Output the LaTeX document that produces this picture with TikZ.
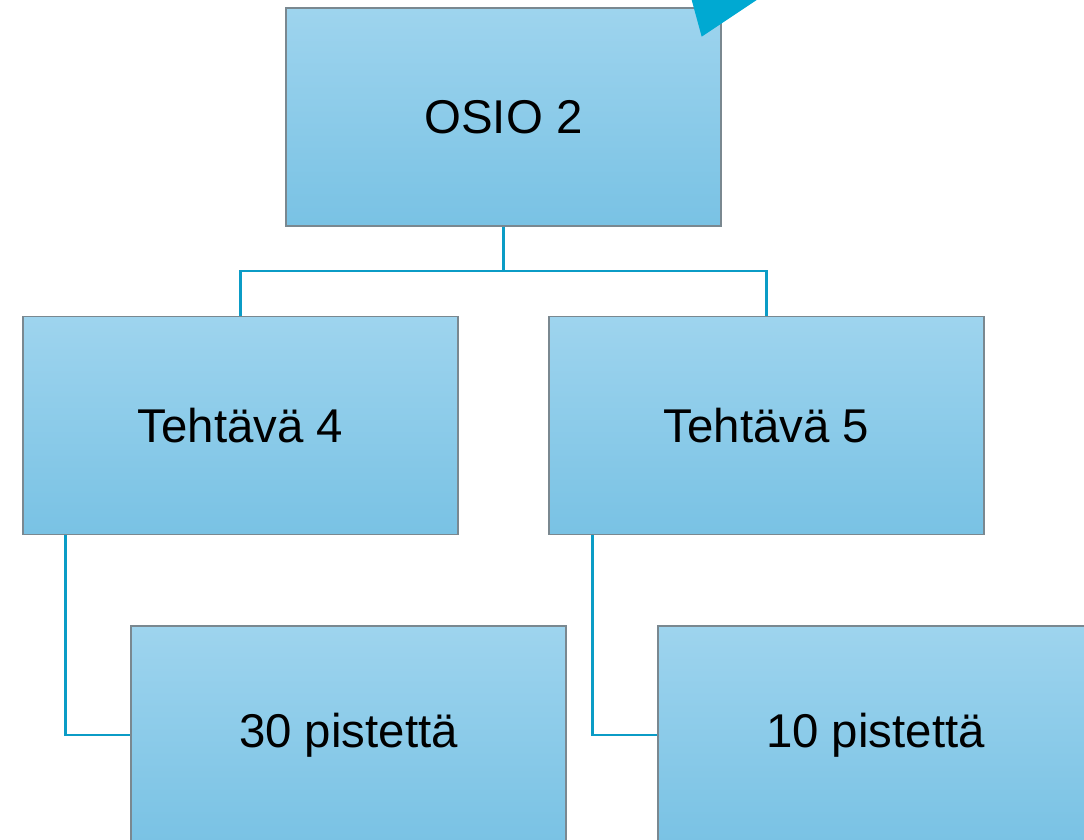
\documentclass[tikz,border=0pt]{standalone}
\usepackage{fontspec}
\setmainfont{Liberation Sans}
\usepackage{tikz}

\definecolor{boxtop}{HTML}{9ED4EE}
\definecolor{boxbot}{HTML}{79C2E4}
\definecolor{boxline}{HTML}{7A8890}
\definecolor{linkcol}{HTML}{0B9CC6}
\definecolor{tricol}{HTML}{00A9D2}

\begin{document}
\begin{tikzpicture}[x=0.5pt,y=-0.5pt]
	\tikzstyle{box}=[rectangle,draw=boxline,line width=0.6pt,top color=boxtop,bottom color=boxbot,minimum width=217.5pt,minimum height=109pt,inner sep=0pt,font=\fontsize{23.7}{28}\selectfont]
	\tikzstyle{link}=[draw=linkcol,line width=1.1pt]
	\useasboundingbox (0,0) rectangle (1084,840);
	\clip (0,0) rectangle (1084,840);
	\node[box](osio) at (503.5,117) {OSIO 2};
	\node[box](t4) at (240.5,425.5) {Tehtävä 4};
	\node[box](t5) at (766.5,425.5) {Tehtävä 5};
	\node[box](p30) at (348.5,735) {30 pistettä};
	\node[box](p10) at (875.5,735) {10 pistettä};
	\coordinate (mid) at (503.5,271);
	\draw[link] (osio) -- (mid) -| (t4);
	\draw[link] (mid) -| (t5);
	\draw[link] ([xshift=21.5pt]t4.south west) |- (p30.west);
	\draw[link] ([xshift=22pt]t5.south west) |- (p10.west);
	% arrow tip entering from the top
	\fill[tricol] (691.7,0) -- (701.7,36.7) -- (756.7,0) -- cycle;
\end{tikzpicture}
\end{document}
